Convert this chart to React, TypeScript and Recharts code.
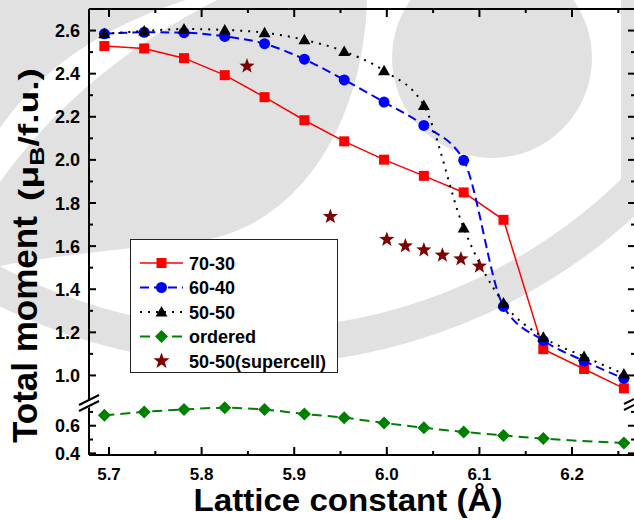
import React from "react";
import { ComposedChart, Line, Scatter, XAxis, YAxis } from "recharts";

// lattice constant (Å) of each calculated point
const latticeConstant = [
  5.695, 5.738, 5.781, 5.825, 5.868, 5.911, 5.954, 5.997, 6.04, 6.083, 6.126,
  6.169, 6.213, 6.256,
];

// total moment (μB/f.u.)
const moment7030 = [
  2.528, 2.517, 2.472, 2.393, 2.291, 2.184, 2.086, 2.001, 1.926, 1.849, 1.722,
  1.122, 1.03, 0.94,
];
const moment6040 = [
  2.585, 2.592, 2.59, 2.573, 2.539, 2.467, 2.371, 2.268, 2.16, 1.998, 1.32,
  1.162, 1.067, 0.986,
];
const moment5050 = [
  2.585, 2.598, 2.607, 2.603, 2.59, 2.557, 2.503, 2.413, 2.252, 1.684, 1.336,
  1.177, 1.088, 1.007,
];
const momentOrdered = [
  0.675, 0.7, 0.718, 0.73, 0.717, 0.685, 0.658, 0.62, 0.585, 0.555, 0.53,
  0.507, null, 0.475,
];

const supercellLattice = [5.849, 5.939, 6.0, 6.02, 6.04, 6.06, 6.08, 6.1];
const supercellMoment = [2.435, 1.737, 1.631, 1.601, 1.582, 1.558, 1.54, 1.507];

const xTicks = [
  5.7, 5.75, 5.8, 5.85, 5.9, 5.95, 6.0, 6.05, 6.1, 6.15, 6.2, 6.25,
];
const xMajor = [5.7, 5.8, 5.9, 6.0, 6.1, 6.2];
const upperTicks = [
  1.0, 1.1, 1.2, 1.3, 1.4, 1.5, 1.6, 1.7, 1.8, 1.9, 2.0, 2.1, 2.2, 2.3, 2.4,
  2.5, 2.6,
];
const upperMajor = [1.0, 1.2, 1.4, 1.6, 1.8, 2.0, 2.2, 2.4, 2.6];
const lowerTicks = [0.4, 0.5, 0.6, 0.7];
const lowerMajor = [0.4, 0.6];

const X_DOMAIN: [number, number] = [5.6784, 6.268];
const UPPER_DOMAIN: [number, number] = [0.9, 2.7];
const LOWER_DOMAIN: [number, number] = [0.388, 0.808];

const FONT = "'Liberation Sans', Arial, Helvetica, sans-serif";
const RED = "#ff0000";
const BLUE = "#0000ff";
const GREEN = "#008000";
const STAR = "#7f0000";
const WATERMARK = "#e1e1e1";

const upperRows = latticeConstant.map((a, i) => ({
  a,
  m7030: moment7030[i],
  m6040: moment6040[i],
  m5050: moment5050[i],
}));
const lowerRows = latticeConstant.map((a, i) => ({ a, ordered: momentOrdered[i] }));
const supercellRows = supercellLattice.map((a, i) => ({ a, m: supercellMoment[i] }));

const isMajor = (v: number, majors: number[]) =>
  majors.some((t) => Math.abs(t - v) < 1e-6);

const axisLine = { stroke: "#000", strokeWidth: 2 };

// ---- tick renderers (ticks point inward, like Origin) ----
function leftTick(majors: number[], margin: number) {
  return (p: any) => {
    const v = p.payload.value;
    const major = isMajor(v, majors);
    const ax = p.x + margin;
    return (
      <g key={`l${v}`}>
        <line x1={ax} x2={ax + (major ? 7 : 4)} y1={p.y} y2={p.y} stroke="#000" strokeWidth={2} />
        {major && (
          <text x={p.x} y={p.y + 6.5} textAnchor="end" fontFamily={FONT} fontWeight="bold" fontSize={18} fill="#000">
            {v.toFixed(1)}
          </text>
        )}
      </g>
    );
  };
}

function rightTick(majors: number[]) {
  return (p: any) => {
    const v = p.payload.value;
    const major = isMajor(v, majors);
    return (
      <line key={`r${v}`} x1={p.x} x2={p.x - (major ? 7 : 4)} y1={p.y} y2={p.y} stroke="#000" strokeWidth={2} />
    );
  };
}

function topTick(p: any) {
  const v = p.payload.value;
  const major = isMajor(v, xMajor);
  return (
    <line key={`t${v}`} x1={p.x} x2={p.x} y1={p.y} y2={p.y + (major ? 8 : 4)} stroke="#000" strokeWidth={2} />
  );
}

function bottomTick(p: any) {
  const v = p.payload.value;
  const major = isMajor(v, xMajor);
  return (
    <g key={`b${v}`}>
      <line x1={p.x} x2={p.x} y1={p.y} y2={p.y - (major ? 8 : 4)} stroke="#000" strokeWidth={2} />
      {major && (
        <text x={p.x} y={p.y + 25} textAnchor="middle" fontFamily={FONT} fontWeight="bold" fontSize={17} fill="#000">
          {v.toFixed(1)}
        </text>
      )}
    </g>
  );
}

// ---- markers ----
const squareDot = (p: any) =>
  p.cy == null ? <g key={p.index} /> : (
    <rect key={p.index} x={p.cx - 5} y={p.cy - 5} width={10} height={10} fill={RED} />
  );
const circleDot = (p: any) =>
  p.cy == null ? <g key={p.index} /> : (
    <circle key={p.index} cx={p.cx} cy={p.cy} r={5.5} fill={BLUE} />
  );
const triangleDot = (p: any) =>
  p.cy == null ? <g key={p.index} /> : (
    <polygon
      key={p.index}
      points={`${p.cx},${p.cy - 6} ${p.cx - 6},${p.cy + 4.5} ${p.cx + 6},${p.cy + 4.5}`}
      fill="#000"
    />
  );
const diamondDot = (p: any) =>
  p.cy == null ? <g key={p.index} /> : (
    <polygon
      key={p.index}
      points={`${p.cx},${p.cy - 6.5} ${p.cx + 6.5},${p.cy} ${p.cx},${p.cy + 6.5} ${p.cx - 6.5},${p.cy}`}
      fill={GREEN}
    />
  );

function starPoints(cx: number, cy: number, ro: number, ri: number) {
  const pts: string[] = [];
  for (let k = 0; k < 10; k++) {
    const r = k % 2 === 0 ? ro : ri;
    const ang = -Math.PI / 2 + (k * Math.PI) / 5;
    pts.push(`${(cx + r * Math.cos(ang)).toFixed(2)},${(cy + r * Math.sin(ang)).toFixed(2)}`);
  }
  return pts.join(" ");
}
const starShape = (p: any) => <polygon points={starPoints(p.cx, p.cy, 8, 3.3)} fill={STAR} />;

// ---- legend ----
const legendItems = [
  { label: "70-30", color: RED, dash: undefined, width: 1.5, mark: "square", line: true },
  { label: "60-40", color: BLUE, dash: "9 5", width: 2, mark: "circle", line: true },
  { label: "50-50", color: "#000", dash: "2 6", width: 2, mark: "triangle", line: true },
  { label: "ordered", color: GREEN, dash: "10 6", width: 2, mark: "diamond", line: true },
  { label: "50-50(supercell)", color: STAR, dash: undefined, width: 0, mark: "star", line: false },
];

function LegendBox() {
  return (
    <svg width={208} height={134} style={{ position: "absolute", left: 130, top: 239 }}>
      <rect x={0.5} y={0.5} width={207} height={133} fill="#fff" stroke="#222" strokeWidth={1} />
      {legendItems.map((it, i) => {
        const y = 24 + i * 24.5;
        const cx = 31.5;
        let mark: React.ReactNode = null;
        if (it.mark === "square") mark = <rect x={cx - 5} y={y - 5} width={10} height={10} fill={it.color} />;
        if (it.mark === "circle") mark = <circle cx={cx} cy={y} r={5.5} fill={it.color} />;
        if (it.mark === "triangle")
          mark = <polygon points={`${cx},${y - 6} ${cx - 6},${y + 4.5} ${cx + 6},${y + 4.5}`} fill={it.color} />;
        if (it.mark === "diamond")
          mark = <polygon points={`${cx},${y - 6.5} ${cx + 6.5},${y} ${cx},${y + 6.5} ${cx - 6.5},${y}`} fill={it.color} />;
        if (it.mark === "star") mark = <polygon points={starPoints(cx, y, 8.5, 3.5)} fill={it.color} />;
        return (
          <g key={it.label}>
            {it.line && (
              <line x1={10} x2={53} y1={y} y2={y} stroke={it.color} strokeWidth={it.width} strokeDasharray={it.dash} />
            )}
            {mark}
            <text x={59} y={y + 6.5} fontFamily={FONT} fontWeight="bold" fontSize={18} fill="#000">
              {it.label}
            </text>
          </g>
        );
      })}
    </svg>
  );
}

// faint logo watermark sitting behind the figure
function Watermark() {
  return (
    <svg width={634} height={521} style={{ position: "absolute", left: 0, top: 0 }}>
      <circle cx={251} cy={-203} r={550} fill="none" stroke={WATERMARK} strokeWidth={36} />
      <rect x={621} y={0} width={13} height={200} fill={WATERMARK} />
      <path
        d="M0,182 Q80,70 217,0 L367,0 C364,120 300,232 190,242 C110,250 40,258 0,266 Z"
        fill={WATERMARK}
      />
      <path d="M0,0 L186,0 Q60,40 0,128 Z" fill={WATERMARK} />
      <circle cx={492} cy={58} r={100} fill={WATERMARK} />
    </svg>
  );
}

// ---- titles and axis breaks ----
function Overlay() {
  return (
    <svg width={634} height={521} style={{ position: "absolute", left: 0, top: 0, pointerEvents: "none" }}>
      {/* left axis break */}
      <polygon points="84,402 96,396 96,404 84,410" fill="#fff" />
      <line x1={79} y1={405} x2={99} y2={395} stroke="#000" strokeWidth={2} />
      <line x1={79} y1={411} x2={99} y2={401} stroke="#000" strokeWidth={2} />
      {/* right axis break */}
      <line x1={624} y1={404} x2={640} y2={396} stroke="#000" strokeWidth={2} />
      <line x1={624} y1={410} x2={640} y2={402} stroke="#000" strokeWidth={2} />
      <text
        transform="translate(37,443) rotate(-90)"
        fontFamily={FONT}
        fontWeight="bold"
        fontSize={35}
        fill="#000"
      >
        Total moment
      </text>
      <text
        transform="translate(38,201) rotate(-90)"
        fontFamily={FONT}
        fontWeight="bold"
        fontSize={28}
        fill="#000"
        textLength={133}
        lengthAdjust="spacingAndGlyphs"
      >
        (μ<tspan fontSize={20} dy={6}>B</tspan>
        <tspan dy={-6}>/f.u.)</tspan>
      </text>
      <text
        x={348}
        y={511}
        textAnchor="middle"
        fontFamily={FONT}
        fontWeight="bold"
        fontSize={31}
        fill="#000"
        textLength={309}
        lengthAdjust="spacingAndGlyphs"
      >
        Lattice constant (Å)
      </text>
    </svg>
  );
}

export default function App() {
  return (
    <div
      style={{
        position: "absolute",
        left: 0,
        top: 0,
        width: 634,
        height: 521,
        overflow: "hidden",
        background: "#fff",
      }}
    >
      <Watermark />
      <div style={{ position: "absolute", left: 0, top: 0 }}>
        <ComposedChart width={636} height={397} data={upperRows} margin={{ top: 0, right: 0, bottom: 0, left: 0 }}>
          <XAxis
            xAxisId="top"
            orientation="top"
            type="number"
            dataKey="a"
            domain={X_DOMAIN}
            allowDataOverflow
            ticks={xTicks}
            height={9}
            tickSize={0}
            tickMargin={0}
            tickLine={false}
            axisLine={axisLine}
            tick={topTick}
            interval={0}
          />
          <YAxis
            yAxisId="left"
            type="number"
            domain={UPPER_DOMAIN}
            allowDataOverflow
            ticks={upperTicks}
            width={89}
            tickSize={0}
            tickMargin={9}
            tickLine={false}
            axisLine={axisLine}
            tick={leftTick(upperMajor, 9)}
            interval={0}
          />
          <YAxis
            yAxisId="right"
            orientation="right"
            type="number"
            domain={UPPER_DOMAIN}
            allowDataOverflow
            ticks={upperTicks}
            width={1}
            tickSize={0}
            tickMargin={0}
            tickLine={false}
            axisLine={axisLine}
            tick={rightTick(upperMajor)}
            interval={0}
          />
          <Line
            xAxisId="top"
            yAxisId="left"
            type="linear"
            dataKey="m7030"
            stroke={RED}
            strokeWidth={1.5}
            dot={squareDot}
            activeDot={false}
            isAnimationActive={false}
          />
          <Line
            xAxisId="top"
            yAxisId="left"
            type="monotone"
            dataKey="m6040"
            stroke={BLUE}
            strokeWidth={2}
            strokeDasharray="9 5"
            dot={circleDot}
            activeDot={false}
            isAnimationActive={false}
          />
          <Line
            xAxisId="top"
            yAxisId="left"
            type="monotone"
            dataKey="m5050"
            stroke="#000"
            strokeWidth={2}
            strokeDasharray="2 6"
            dot={triangleDot}
            activeDot={false}
            isAnimationActive={false}
          />
          <Scatter
            xAxisId="top"
            yAxisId="left"
            data={supercellRows}
            dataKey="m"
            shape={starShape}
            isAnimationActive={false}
          />
        </ComposedChart>
      </div>
      <div style={{ position: "absolute", left: 0, top: 397 }}>
        <ComposedChart width={636} height={124} data={lowerRows} margin={{ top: 0, right: 0, bottom: 0, left: 0 }}>
          <XAxis
            xAxisId="bottom"
            orientation="bottom"
            type="number"
            dataKey="a"
            domain={X_DOMAIN}
            allowDataOverflow
            ticks={xTicks}
            height={66}
            tickSize={0}
            tickMargin={0}
            tickLine={false}
            axisLine={axisLine}
            tick={bottomTick}
            interval={0}
          />
          <YAxis
            yAxisId="left"
            type="number"
            domain={LOWER_DOMAIN}
            allowDataOverflow
            ticks={lowerTicks}
            width={89}
            tickSize={0}
            tickMargin={9}
            tickLine={false}
            axisLine={axisLine}
            tick={leftTick(lowerMajor, 9)}
            interval={0}
          />
          <YAxis
            yAxisId="right"
            orientation="right"
            type="number"
            domain={LOWER_DOMAIN}
            allowDataOverflow
            ticks={lowerTicks}
            width={1}
            tickSize={0}
            tickMargin={0}
            tickLine={false}
            axisLine={axisLine}
            tick={rightTick(lowerMajor)}
            interval={0}
          />
          <Line
            xAxisId="bottom"
            yAxisId="left"
            type="monotone"
            dataKey="ordered"
            stroke={GREEN}
            strokeWidth={2}
            strokeDasharray="10 6"
            connectNulls
            dot={diamondDot}
            activeDot={false}
            isAnimationActive={false}
          />
        </ComposedChart>
      </div>
      <LegendBox />
      <Overlay />
    </div>
  );
}
